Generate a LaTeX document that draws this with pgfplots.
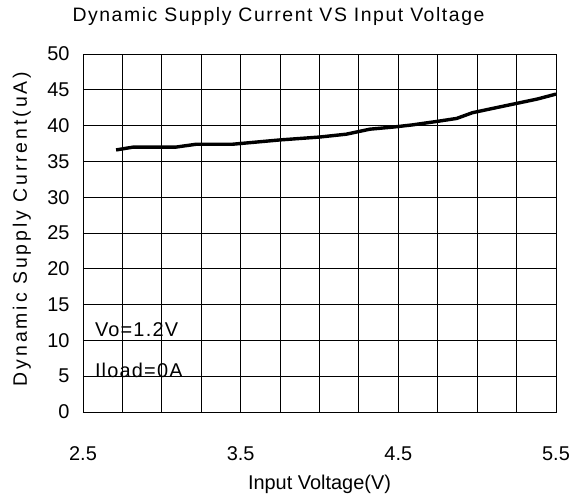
\documentclass[border=0pt]{standalone}
\usepackage{fontspec}
\setmainfont{Liberation Sans}
\newfontfamily\titlefont[LetterSpace=8]{Liberation Sans}
\newfontfamily\ylabfont[LetterSpace=15]{Liberation Sans}
\newfontfamily\notefont[LetterSpace=6]{Liberation Sans}
\usepackage{pgfplots}
\pgfplotsset{compat=1.18}
\pgfplotstableread{
x y
2.71 36.6
2.82 37.0
3.09 37.0
3.22 37.4
3.45 37.4
3.75 38.0
4.00 38.4
4.17 38.8
4.32 39.5
4.47 39.8
4.59 40.1
4.75 40.6
4.87 41.0
4.97 41.8
5.12 42.5
5.25 43.1
5.38 43.7
5.50 44.4
}\currentdata
\begin{document}
\begin{tikzpicture}
\begin{axis}[
  name=ax,
  scale only axis, width=473bp, height=358bp,
  xmin=2.5, xmax=5.5, ymin=0, ymax=50,
  xtick={2.5,3.5,4.5,5.5},
  xticklabels={2.5,3.5,4.5,5.5},
  minor xtick={2.75,3,3.25,3.75,4,4.25,4.75,5,5.25},
  ytick={0,5,...,50},
  grid=both,
  major grid style={black, line width=0.9bp},
  minor grid style={black, line width=0.9bp},
  axis line style={black, line width=0.9bp},
  major tick length=0pt, minor tick length=0pt,
  /pgf/number format/assume math mode=true,
  xticklabel style={font=\fontsize{20}{20}\selectfont, yshift=-31bp},
  yticklabel style={font=\fontsize{20}{20}\selectfont, xshift=-10bp},
  title={Dynamic Supply Current VS Input Voltage},
  title style={font=\titlefont\fontsize{19.5}{19.5}\selectfont, at={(0.5,1)}, anchor=base, yshift=27bp, xshift=-41bp},
  xlabel={Input Voltage(V)},
  xlabel style={font=\fontsize{20}{20}\selectfont, at={(0.5,0)}, anchor=base, yshift=-78bp},
  ylabel={Dynamic Supply Current(uA)},
  ylabel style={font=\ylabfont\fontsize{19.5}{19.5}\selectfont, at={(0,0.5)}, anchor=base, xshift=4bp, yshift=56bp},
]
\addplot[black, line width=3.4bp, line join=round] table[x=x, y=y] {\currentdata};
\node[anchor=base west, font=\notefont\fontsize{20}{20}\selectfont, inner sep=0pt] at (axis cs:2.575,10.5) {Vo=1.2V};
\node[anchor=base west, font=\notefont\fontsize{20}{20}\selectfont, inner sep=0pt] at (axis cs:2.575,4.75) {Iload=0A};
\end{axis}
\pgfresetboundingbox
\path ([shift={(-83bp,-90bp)}]ax.south west) rectangle ([shift={(21bp,54bp)}]ax.north east);
\end{tikzpicture}
\end{document}
